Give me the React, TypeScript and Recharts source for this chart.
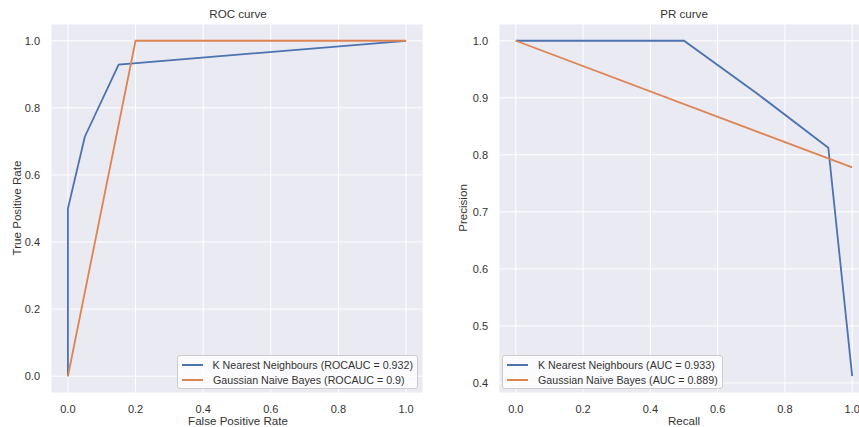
import React from 'react';
import { LineChart, Line, XAxis, YAxis, CartesianGrid, Legend } from 'recharts';

// ---- data ----
const rocKnnFpr = [0, 0, 0.05, 0.15, 1];
const rocKnnTpr = [0, 0.5, 0.714, 0.929, 1];
const rocGnbFpr = [0, 0.2, 1];
const rocGnbTpr = [0, 1, 1];

const prKnnRecall = [0, 0.5, 0.714, 0.929, 1];
const prKnnPrecision = [1, 1, 0.909, 0.8125, 0.412];
const prGnbRecall = [0, 1];
const prGnbPrecision = [1, 0.778];

const unitTicks = [0, 0.2, 0.4, 0.6, 0.8, 1.0];
const precisionTicks = [0.4, 0.5, 0.6, 0.7, 0.8, 0.9, 1.0];

const seriesNames = ['K Nearest Neighbours', 'Gaussian Naive Bayes'];
const rocLegendLabels = ['K Nearest Neighbours (ROCAUC = 0.932)', 'Gaussian Naive Bayes (ROCAUC = 0.9)'];
const prLegendLabels = ['K Nearest Neighbours (AUC = 0.933)', 'Gaussian Naive Bayes (AUC = 0.889)'];

const COLORS = ['#4C72B0', '#DD8452'];
const FONT = '"Liberation Sans", Arial, sans-serif';
const TEXT = '#333333';

const zip = (xs: number[], ys: number[]) => xs.map((x, i) => ({ x, y: ys[i] }));

const rocKnn = zip(rocKnnFpr, rocKnnTpr);
const rocGnb = zip(rocGnbFpr, rocGnbTpr);
const prKnn = zip(prKnnRecall, prKnnPrecision);
const prGnb = zip(prGnbRecall, prGnbPrecision);

const fmt = (v: number) => v.toFixed(1);

const LegendBox = ({ labels, width }: { labels: string[]; width: number }) => (
  <div
    style={{
      width,
      height: 34,
      boxSizing: 'border-box',
      background: 'rgba(255,255,255,0.8)',
      border: '1px solid #cccccc',
      borderRadius: 3,
      padding: '1px 4px 0 4px',
      fontFamily: FONT,
      fontSize: 10.7,
      color: TEXT,
      whiteSpace: 'nowrap',
    }}
  >
    {labels.map((l, i) => (
      <div key={l} style={{ display: 'flex', alignItems: 'center', height: 15 }}>
        <span style={{ display: 'inline-block', width: 21, height: 2, background: COLORS[i], marginRight: 10 }} />
        <span>{l}</span>
      </div>
    ))}
  </div>
);

const tickStyle = { fontSize: 11, fill: TEXT, fontFamily: FONT };

const label = (text: string, left: number, top: number, rotate = false, size = 11.6) => (
  <div
    style={{
      position: 'absolute',
      left,
      top,
      transform: `translate(-50%, -50%)${rotate ? ' rotate(-90deg)' : ''}`,
      fontFamily: FONT,
      fontSize: size,
      color: TEXT,
      whiteSpace: 'nowrap',
      lineHeight: 1,
    }}
  >
    {text}
  </div>
);

export default function App() {
  return (
    <div style={{ position: 'fixed', left: 0, top: 0, width: 859, height: 427, overflow: 'hidden', background: '#ffffff' }}>
      {/* ROC chart */}
      <div style={{ position: 'absolute', left: 0, top: 0 }}>
        <LineChart width={430} height={427} margin={{ top: 24, right: 7, bottom: 4, left: 11 }}>
          <CartesianGrid fill="#EAEAF2" stroke="#ffffff" strokeWidth={1} />
          <XAxis
            dataKey="x"
            type="number"
            domain={[-0.05, 1.05]}
            ticks={unitTicks}
            tickFormatter={fmt}
            allowDataOverflow
            axisLine={false}
            tickLine={false}
            tickSize={0}
            tickMargin={12}
            height={30}
            tick={tickStyle}
          />
          <YAxis
            type="number"
            domain={[-0.05, 1.05]}
            ticks={unitTicks}
            tickFormatter={fmt}
            allowDataOverflow
            axisLine={false}
            tickLine={false}
            tickSize={0}
            tickMargin={11}
            width={40}
            tick={tickStyle}
          />
          <Line data={rocKnn} dataKey="y" name={seriesNames[0]} type="linear" stroke={COLORS[0]} strokeWidth={1.8} dot={false} isAnimationActive={false} />
          <Line data={rocGnb} dataKey="y" name={seriesNames[1]} type="linear" stroke={COLORS[1]} strokeWidth={1.8} dot={false} isAnimationActive={false} />
          <Legend
            layout="horizontal"
            verticalAlign="middle"
            align="center"
            wrapperStyle={{ position: 'absolute', left: 177, top: 355, width: 'auto' }}
            content={() => <LegendBox labels={rocLegendLabels} width={241} />}
          />
        </LineChart>
      </div>
      {/* PR chart */}
      <div style={{ position: 'absolute', left: 430, top: 0 }}>
        <LineChart width={445} height={427} margin={{ top: 24, right: 6, bottom: 4, left: 29 }}>
          <CartesianGrid fill="#EAEAF2" stroke="#ffffff" strokeWidth={1} />
          <XAxis
            dataKey="x"
            type="number"
            domain={[-0.05, 1.05]}
            ticks={unitTicks}
            tickFormatter={fmt}
            allowDataOverflow
            axisLine={false}
            tickLine={false}
            tickSize={0}
            tickMargin={12}
            height={30}
            tick={tickStyle}
          />
          <YAxis
            type="number"
            domain={[0.3824, 1.0294]}
            ticks={precisionTicks}
            tickFormatter={fmt}
            allowDataOverflow
            axisLine={false}
            tickLine={false}
            tickSize={0}
            tickMargin={11}
            width={40}
            tick={tickStyle}
          />
          <Line data={prKnn} dataKey="y" name={seriesNames[0]} type="linear" stroke={COLORS[0]} strokeWidth={1.8} dot={false} isAnimationActive={false} />
          <Line data={prGnb} dataKey="y" name={seriesNames[1]} type="linear" stroke={COLORS[1]} strokeWidth={1.8} dot={false} isAnimationActive={false} />
          <Legend
            layout="horizontal"
            verticalAlign="middle"
            align="center"
            wrapperStyle={{ position: 'absolute', left: 72, top: 355, width: 'auto' }}
            content={() => <LegendBox labels={prLegendLabels} width={221} />}
          />
        </LineChart>
      </div>
      {label('ROC curve', 238, 14)}
      {label('False Positive Rate', 238, 421)}
      {label('True Positive Rate', 17, 208, true)}
      {label('PR curve', 684, 14)}
      {label('Recall', 684, 421)}
      {label('Precision', 463, 208, true)}
    </div>
  );
}
